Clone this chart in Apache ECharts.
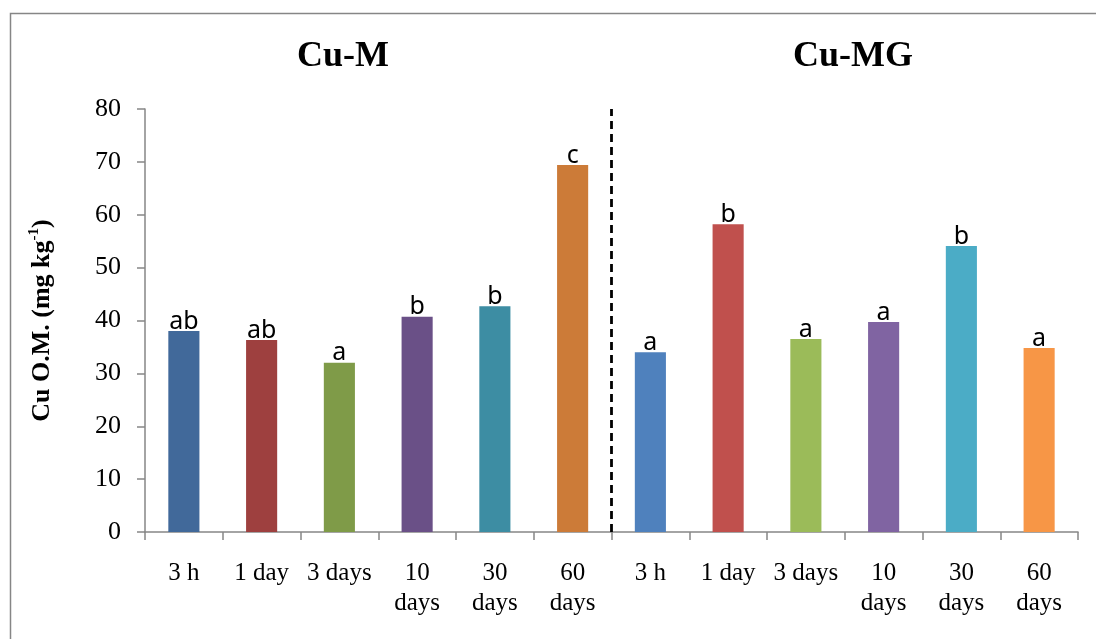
<!DOCTYPE html>
<html>
<head>
<meta charset="utf-8">
<title>Cu O.M.</title>
<script src="https://cdn.jsdelivr.net/npm/echarts@6/dist/echarts.min.js"></script>
<style>
  html, body { margin: 0; padding: 0; background: #ffffff; }
  #chart { width: 1096px; height: 639px; }
</style>
</head>
<body>
<div id="chart"></div>
<script>
// Sampling times (same set for both treatments)
const times = ['3 h', '1 day', '3 days', '10\ndays', '30\ndays', '60\ndays'];

// Cu O.M. (mg kg-1) per sampling time
const cuM = [38.0, 36.3, 32.0, 40.7, 42.7, 69.4];
const cuMG = [34.0, 58.2, 36.5, 39.7, 54.1, 34.8];

// Significance letters above each bar
const lettersM = ['ab', 'ab', 'a', 'b', 'b', 'c'];
const lettersMG = ['a', 'b', 'a', 'a', 'b', 'a'];

// Group headings
const groupNames = ['Cu-M', 'Cu-MG'];

// Y-axis ticks
const yTicks = [0, 10, 20, 30, 40, 50, 60, 70, 80];

// Bar colours
const colorsM = ['#41699A', '#9E403F', '#7F9B48', '#6A5087', '#3D8DA3', '#CC7B38'];
const colorsMG = ['#4F81BD', '#C0504D', '#9BBB59', '#8064A2', '#4BACC6', '#F79646'];

const categories = times.concat(times);
const values = cuM.concat(cuMG);
const letters = lettersM.concat(lettersMG);
const colors = colorsM.concat(colorsMG);

const serif = '"Liberation Serif", "Times New Roman", serif';
const sans = '"Noto Sans", "Open Sans", sans-serif';
const axisGrey = '#868686';

const chart = echarts.init(document.getElementById('chart'), null, { renderer: 'canvas' });

const grid = { left: 145, right: 18, top: 109, bottom: 107 };

chart.setOption({
  animation: false,
  backgroundColor: '#ffffff',
  grid: grid,
  xAxis: [
    {
      type: 'category',
      data: categories,
      boundaryGap: true,
      axisLine: { lineStyle: { color: axisGrey, width: 1.5 } },
      axisTick: { show: true, length: 8, lineStyle: { color: axisGrey, width: 1.5 } },
      axisLabel: {
        interval: 0,
        margin: 26,
        fontFamily: serif,
        fontSize: 25,
        color: '#000',
        lineHeight: 30
      },
      splitLine: { show: false }
    },
    {
      // continuous helper axis spanning the 12 category slots, used for the group divider
      type: 'value',
      min: 0,
      max: categories.length,
      show: false
    }
  ],
  yAxis: {
    type: 'value',
    min: yTicks[0],
    max: yTicks[yTicks.length - 1],
    interval: yTicks[1] - yTicks[0],
    name: '{t|Cu O.M. (mg kg}{s|-1}{t|)}',
    nameLocation: 'middle',
    nameRotate: 90,
    nameGap: 88,
    nameTextStyle: {
      rich: {
        t: { fontFamily: serif, fontSize: 26, fontWeight: 'bold', color: '#000', lineHeight: 30 },
        s: { fontFamily: serif, fontSize: 15, fontWeight: 'bold', color: '#000', lineHeight: 30, padding: [0, 0, 16, 0] }
      }
    },
    axisLine: { show: true, lineStyle: { color: axisGrey, width: 1.5 } },
    axisTick: { show: true, length: 8, lineStyle: { color: axisGrey, width: 1.5 } },
    axisLabel: {
      margin: 24,
      fontFamily: serif,
      fontSize: 26,
      color: '#000'
    },
    splitLine: { show: false }
  },
  series: [
    {
      type: 'bar',
      barWidth: '40%',
      data: values.map((v, i) => ({ value: v, itemStyle: { color: colors[i] } })),
      label: {
        show: true,
        position: 'top',
        distance: -3,
        fontFamily: sans,
        fontSize: 25,
        color: '#000',
        formatter: p => letters[p.dataIndex]
      }
    },
    {
      // dashed divider between the two treatment groups
      type: 'line',
      xAxisIndex: 1,
      yAxisIndex: 0,
      data: [[times.length, yTicks[0]], [times.length, yTicks[yTicks.length - 1]]],
      symbol: 'none',
      silent: true,
      lineStyle: { color: '#000', width: 2.8, type: [8, 5] },
      z: 5
    }
  ]
});

// Group headings and the outer frame
const headingX = [343, 853];
chart.setOption({
  graphic: [
    {
      type: 'rect',
      shape: { x: 10.5, y: 13.5, width: 1200, height: 700 },
      style: { fill: null, stroke: axisGrey, lineWidth: 1.5 },
      silent: true,
      z: -1
    }
  ].concat(groupNames.map((name, g) => ({
    type: 'text',
    x: headingX[g],
    y: 57,
    style: {
      text: name,
      fontFamily: serif,
      fontSize: 36,
      fontWeight: 'bold',
      fill: '#000',
      align: 'center',
      verticalAlign: 'middle'
    }
  })))
});
</script>
</body>
</html>
